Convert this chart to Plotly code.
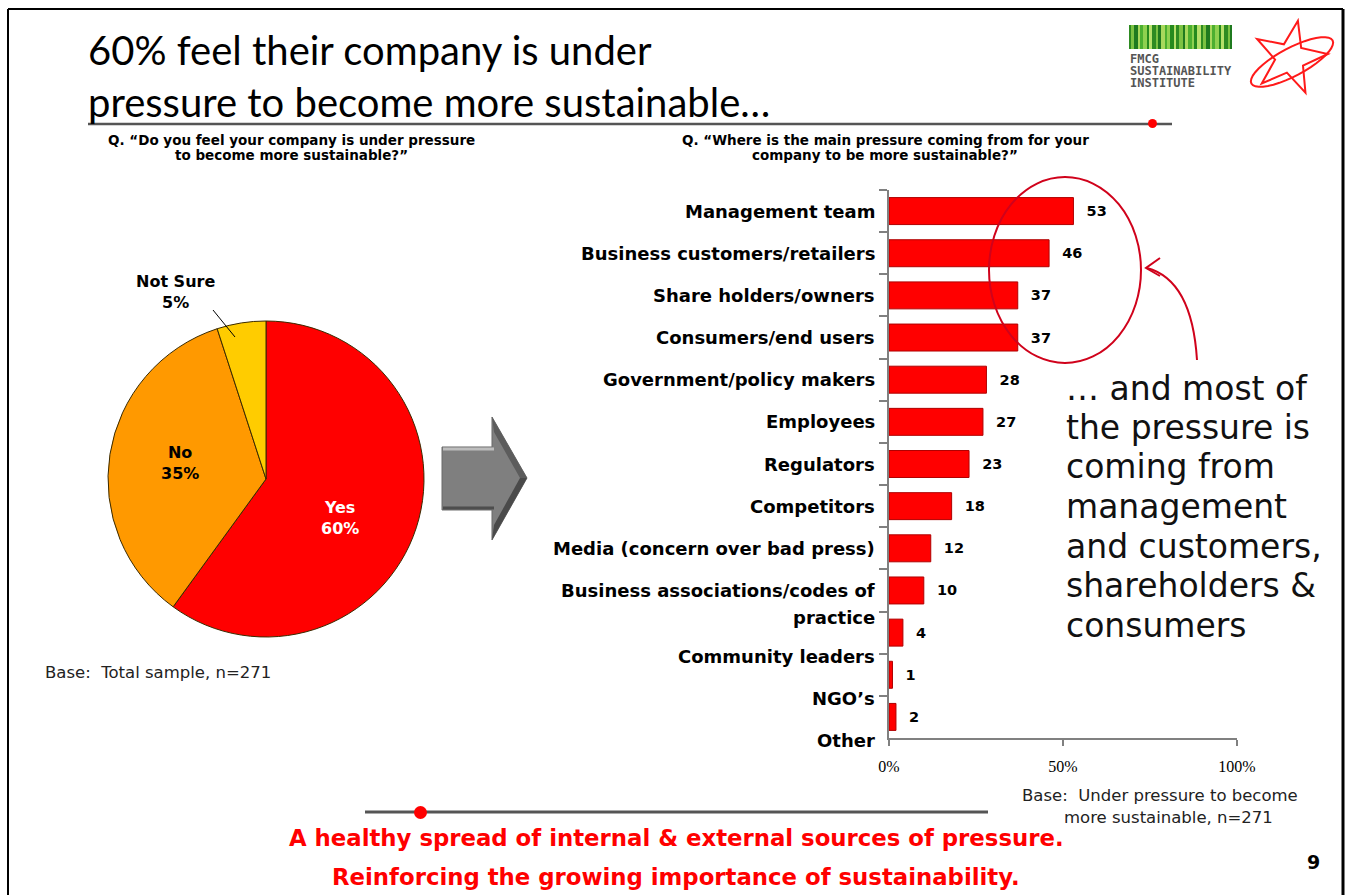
import math
import plotly.graph_objects as go

W, H = 1351, 895

# ---------------- data ----------------
pie_labels = ["Yes", "No", "Not Sure"]
pie_values = [60, 35, 5]
pie_colors = ["#FF0000", "#FF9900", "#FFCC00"]

bar_categories = [
    "Management team",
    "Business customers/retailers",
    "Share holders/owners",
    "Consumers/end users",
    "Government/policy makers",
    "Employees",
    "Regulators",
    "Competitors",
    "Media (concern over bad press)",
    "Business associations/codes of practice",
    "Community leaders",
    "NGO\u2019s",
    "Other",
]
bar_values = [53, 46, 37, 37, 28, 27, 23, 18, 12, 10, 4, 1, 2]
x_tick_vals = [0, 50, 100]
x_tick_text = ["0%", "50%", "100%"]

title_lines = ["60% feel their company is under",
               "pressure to become more sustainable\u2026"]
q_left = ["Q. \u201cDo you feel your company is under pressure",
          "to become more sustainable?\u201d"]
q_right = ["Q. \u201cWhere is the main pressure coming from for your",
           "company to be more sustainable?\u201d"]
callout_lines = ["\u2026 and most of", "the pressure is", "coming from",
                 "management", "and customers,", "shareholders &", "consumers"]
footer_lines = ["A healthy spread of internal & external sources of pressure.",
                "Reinforcing the growing importance of sustainability."]
base_left = "Base:  Total sample, n=271"
base_right = ["Base:  Under pressure to become", "more sustainable, n=271"]
page_number = "9"
logo_lines = ["FMCG", "SUSTAINABILITY", "INSTITUTE"]


def X(px):
    return px / W


def Y(py):
    return 1 - py / H


BAR_TOP, BAR_BOT = 190, 738
BAR_X0, BAR_X1 = 889, 1237

fig = go.Figure()

# ---------------- pie ----------------
fig.add_trace(go.Pie(
    labels=pie_labels, values=pie_values, sort=False, direction="clockwise",
    rotation=0, marker=dict(colors=pie_colors, line=dict(color="#3a2a00", width=1)),
    textinfo="none", hoverinfo="skip", showlegend=False, automargin=False,
    domain=dict(x=[X(106), X(426)], y=[Y(637), Y(321)]),
))

# ---------------- bars ----------------
fig.add_trace(go.Bar(
    x=bar_values, y=bar_categories, orientation="h",
    marker=dict(color="#FF0000", line=dict(color="#B00000", width=1)),
    width=0.64, texttemplate="  %{x}", textposition="outside",
    textfont=dict(family="DejaVu Sans", size=14.5, color="#000", weight="bold"),
    cliponaxis=False, showlegend=False, hoverinfo="skip",
    xaxis="x", yaxis="y",
))

ax_col = "#808080"
fig.update_layout(
    width=W, height=H, autosize=False, margin=dict(l=0, r=0, t=0, b=0, pad=0, autoexpand=False),
    paper_bgcolor="white", plot_bgcolor="rgba(0,0,0,0)",
    xaxis=dict(domain=[X(BAR_X0), X(BAR_X1)], range=[0, 100], anchor="y", automargin=False,
               tickvals=x_tick_vals, ticktext=x_tick_text,
               ticks="outside", ticklen=6, tickcolor=ax_col, tickwidth=1.5,
               showline=True, linecolor=ax_col, linewidth=1.5,
               showgrid=False, zeroline=False, ticklabelstandoff=7,
               tickfont=dict(family="Liberation Serif", size=16, color="#000")),
    yaxis=dict(domain=[Y(BAR_BOT), Y(BAR_TOP)], type="category", automargin=False,
               categoryarray=bar_categories, range=[len(bar_categories) - 0.5, -0.5],
               anchor="x", tickson="boundaries", ticks="outside", ticklen=8,
               tickcolor=ax_col, tickwidth=1.5, showticklabels=False,
               showline=True, linecolor=ax_col, linewidth=1.5,
               showgrid=False, zeroline=False),
)

ann = []
shapes = []


def txt(px, py, text, font, xa="left", ya="middle", align=None):
    a = dict(x=X(px), y=Y(py), xref="paper", yref="paper", text=text,
             showarrow=False, xanchor=xa, yanchor=ya, font=font)
    if align:
        a["align"] = align
    ann.append(a)


# category labels (Excel-style wrap pushes the last labels downward)
band = (BAR_BOT - BAR_TOP) / len(bar_categories)
label_shift = [0, 0, 0, 0, 0, 0, 0, 0, 0, 0, 0.57, 0.57, 0.57]
wrap_at = {"Business associations/codes of practice": ["Business associations/codes of", "practice"]}
cat_font = dict(family="DejaVu Sans", size=18, color="#000", weight="bold")
for i, cat in enumerate(bar_categories):
    lines = wrap_at.get(cat, [cat])
    for j, line in enumerate(lines):
        py = BAR_TOP + (i + 0.5 + label_shift[i]) * band + j * 27
        txt(BAR_X0 - 12, py, line, cat_font, xa="right")

# pie labels
pie_label_pos = [(340, 518, "white"), (180, 463, "#000"), (176, 292, "#000")]
for (lx, ly, col), lab, val in zip(pie_label_pos, pie_labels, pie_values):
    txt(lx, ly, f"{lab}<br>{val}%",
        dict(family="DejaVu Sans", size=16, color=col, weight="bold"), xa="center")
shapes.append(dict(type="line", xref="paper", yref="paper",
                   x0=X(213), y0=Y(310), x1=X(235), y1=Y(337),
                   line=dict(color="#000", width=1)))

# title (one text block)
txt(86, 76, "<br>".join(title_lines), dict(family="Lato", size=40, color="#000"), align="left")

# questions
qfont = dict(family="DejaVu Sans", size=13.5, color="#000", weight="bold")
for k, t in enumerate(q_left):
    txt(291, 140 + k * 15, t, qfont, xa="center")
for k, t in enumerate(q_right):
    txt(885, 140 + k * 15, t, qfont, xa="center")

# callout
for k, t in enumerate(callout_lines):
    txt(1064, 388 + k * 39.5, t, dict(family="DejaVu Sans", size=33, color="#111"))

# base notes
bfont = dict(family="DejaVu Sans", size=16.5, color="#222")
txt(43, 672, base_left, bfont)
txt(1020, 795, base_right[0], bfont)
txt(1062, 817, base_right[1], bfont)

# footer
for k, t in enumerate(footer_lines):
    txt(676, 838 + k * 39, t, dict(family="DejaVu Sans", size=22.8, color="#FF0000", weight="bold"),
        xa="center")
txt(1313, 862, page_number, dict(family="DejaVu Sans", size=19, color="#000", weight="bold"),
    xa="center")

# logo text
for k, t in enumerate(logo_lines):
    txt(1128, 59 + k * 12, t, dict(family="DejaVu Sans Mono", size=12, color="#555", weight="bold"))


def path_from(points, close=False):
    s = "M " + " L ".join(f"{X(a):.5f},{Y(b):.5f}" for a, b in points)
    return s + (" Z" if close else "")


def line(x0, y0, x1, y1, color, width):
    shapes.append(dict(type="line", xref="paper", yref="paper", x0=X(x0), y0=Y(y0),
                       x1=X(x1), y1=Y(y1), line=dict(color=color, width=width)))


# slide frame
line(8, 9, 1343, 9, "#000", 2)
line(8, 9, 8, 895, "#000", 2)
line(1343, 9, 1343, 895, "#000", 3)

# title rule and footer rule with red dots
line(88, 124, 1172, 124, "#555", 2.5)
shapes.append(dict(type="circle", xref="paper", yref="paper", x0=X(1148), y0=Y(128), x1=X(1157), y1=Y(119),
                   fillcolor="#FF0000", line=dict(width=0)))
line(365, 812, 988, 812, "#555", 3)
shapes.append(dict(type="circle", xref="paper", yref="paper", x0=X(414), y0=Y(819), x1=X(427), y1=Y(806),
                   fillcolor="#FF0000", line=dict(width=0)))

# gray block arrow
arrow_pts = [(442, 447), (492, 447), (492, 417), (527, 478), (492, 540), (492, 510), (442, 510)]
shapes.append(dict(type="path", xref="paper", yref="paper", path=path_from(arrow_pts, True),
                   fillcolor="#7f7f7f", line=dict(color="#6a6a6a", width=1)))
shapes.append(dict(type="path", xref="paper", yref="paper",
                   path=path_from([(492, 417), (527, 478), (520, 478), (494, 432)], True),
                   fillcolor="#5c5c5c", line=dict(width=0)))
shapes.append(dict(type="path", xref="paper", yref="paper",
                   path=path_from([(527, 478), (492, 540), (494, 525), (520, 478)], True),
                   fillcolor="#4a4a4a", line=dict(width=0)))
line(443, 449, 494, 449, "#bdbdbd", 3)
line(443, 508, 494, 508, "#4d4d4d", 3)

# red ellipse and curved arrow
shapes.append(dict(type="circle", xref="paper", yref="paper", x0=X(989), y0=Y(363), x1=X(1141), y1=Y(177),
                   line=dict(color="#D0021B", width=2)))
shapes.append(dict(type="path", xref="paper", yref="paper",
                   path=f"M {X(1197):.5f},{Y(360):.5f} Q {X(1192):.5f},{Y(280):.5f} {X(1147):.5f},{Y(268):.5f}",
                   line=dict(color="#D0021B", width=2)))
shapes.append(dict(type="path", xref="paper", yref="paper",
                   path=path_from([(1160, 258), (1146, 268), (1160, 276)]),
                   line=dict(color="#D0021B", width=2)))

# logo barcode
stripe_cols = ["#2e8b22", "#7cc242", "#1f7a1f", "#a8d85c", "#4caf30", "#8fd14f", "#268a1e", "#b6e06a"]
xs = 1129.0
k = 0
while xs < 1232:
    w = 2.0 + (k % 3)
    shapes.append(dict(type="rect", xref="paper", yref="paper", x0=X(xs), x1=X(min(xs + w, 1232)),
                       y0=Y(49), y1=Y(25), fillcolor=stripe_cols[k % len(stripe_cols)], line=dict(width=0)))
    xs += w
    k += 1

# red star doodle
cx, cy = 1290, 58
star = []
for n in range(10):
    ang = math.radians(-90 + 12 + n * 36)
    r = 38 if n % 2 == 0 else 15
    star.append((cx + r * math.cos(ang), cy + r * math.sin(ang)))
shapes.append(dict(type="path", xref="paper", yref="paper", path=path_from(star, True),
                   line=dict(color="#FF1a1a", width=2)))
orbit = []
rot = math.radians(-28)
for n in range(41):
    t = 2 * math.pi * n / 40
    ex, ey = 46 * math.cos(t), 14 * math.sin(t)
    orbit.append((cx + 2 + ex * math.cos(rot) - ey * math.sin(rot), cy + 4 + ex * math.sin(rot) + ey * math.cos(rot)))
shapes.append(dict(type="path", xref="paper", yref="paper", path=path_from(orbit, True),
                   line=dict(color="#FF1a1a", width=2)))

fig.update_layout(annotations=ann, shapes=shapes)
fig.write_html("out.html")
